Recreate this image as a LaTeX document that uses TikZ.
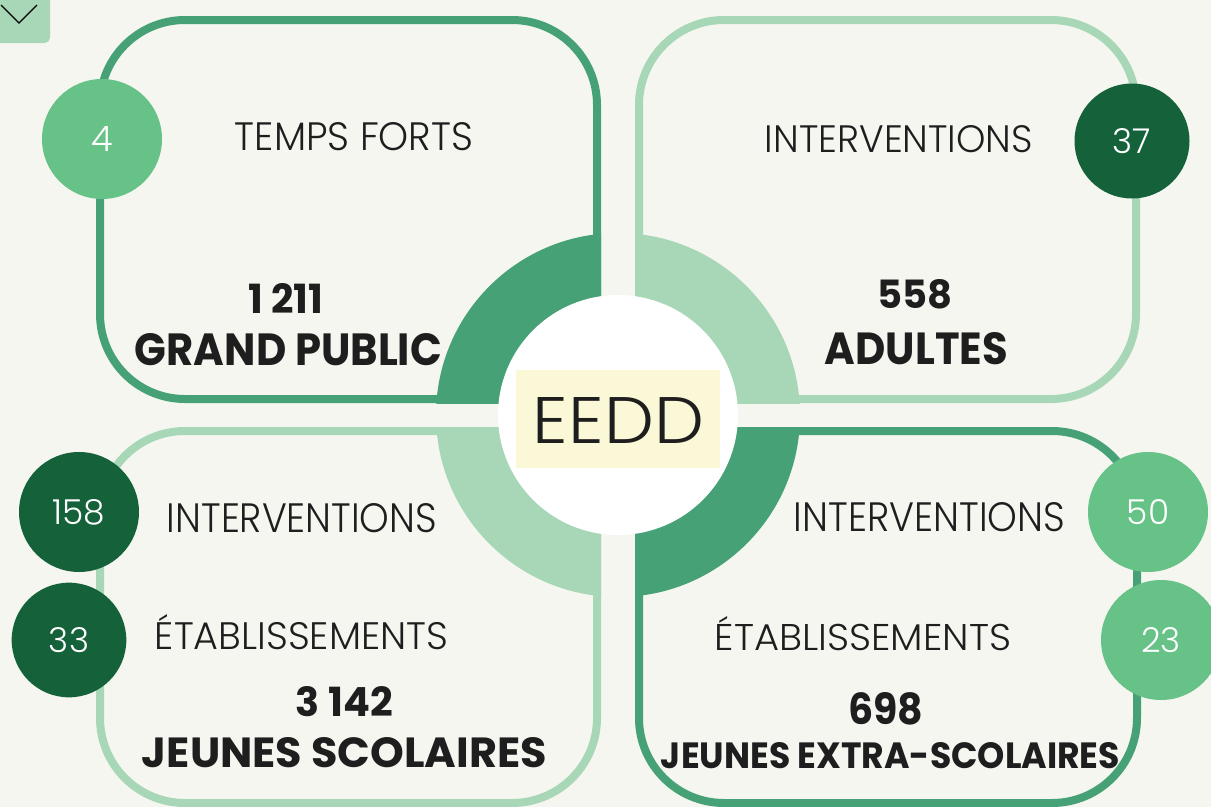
\documentclass[tikz,border=0pt]{standalone}
\usepackage{fontspec}
\usepackage{graphicx}
\IfFontExistsTF{Poppins Light}{\newfontfamily\thinf{Poppins Light}}{\newfontfamily\thinf{Poppins}}
\newfontfamily\boldf{Poppins}
\newlength\upx
\setlength\upx{0.75pt}
\newcommand\fitbox[3]{\resizebox{#1\upx}{#2\upx}{#3}}
\newcommand\fitnum[1]{\resizebox{!}{25\upx}{#1}}
\definecolor{bg}{HTML}{F5F6F0}
\definecolor{dkg}{HTML}{46A276}
\definecolor{ltg}{HTML}{A8D7B7}
\definecolor{midg}{HTML}{66C286}
\definecolor{deepg}{HTML}{14613A}
\definecolor{yel}{HTML}{FAF8D6}
\definecolor{txt}{HTML}{1E1E1E}
\tikzset{
  boxline/.style={line width=6pt, rounded corners=63.75pt},
  numc/.style={circle, inner sep=0pt, minimum size=90pt, text=white, font=\thinf},
  thinlbl/.style={inner sep=0pt, text=txt, font=\thinf},
  boldlbl/.style={inner sep=0pt, text=txt, font=\boldf\bfseries},
}
\begin{document}
\begin{tikzpicture}[x=0.75pt,y=-0.75pt]
\useasboundingbox (0,0) rectangle (1211,807);
\fill[bg] (0,0) rectangle (1211,807);

% corner button
\begin{scope}
  \clip (0,0) rectangle (1211,807);
  \fill[ltg, rounded corners=4pt] (-20,-20) rectangle (50,43);
\end{scope}
\draw[black, line width=1pt] (1,5) -- (19,23) -- (37,5);

% boxes
\draw[boxline, dkg] (100,20) rectangle (597,399);
\draw[boxline, ltg] (639,20) rectangle (1136,399);
\draw[boxline, ltg] (100,431) rectangle (597,803);
\draw[boxline, dkg] (639,431) rectangle (1137,803);

% ring quarters
\begin{scope}
  \clip (0,0) rectangle (601,403);
  \fill[dkg] (618,415) circle[radius=136.5pt];
\end{scope}
\begin{scope}
  \clip (635,0) rectangle (1211,403);
  \fill[ltg] (618,415) circle[radius=136.5pt];
\end{scope}
\begin{scope}
  \clip (0,427) rectangle (601,807);
  \fill[ltg] (618,415) circle[radius=136.5pt];
\end{scope}
\begin{scope}
  \clip (635,427) rectangle (1211,807);
  \fill[dkg] (618,415) circle[radius=136.5pt];
\end{scope}

% center
\node[circle, fill=white, minimum size=180pt, inner sep=0pt] (hub) at (618,415) {};
\node[fill=yel, minimum width=153pt, minimum height=73.5pt, inner sep=0pt] (eeddbox) at (618,419) {};
\node[thinlbl] (eedd) at (618.5,420) {\fitbox{171}{46}{EEDD}};

% number circles
\node[numc, fill=midg] (n4) at (102,139) {\fitnum{4}};
\node[numc, fill=deepg, minimum size=86.25pt] (n37) at (1132,141) {\fitnum{37}};
\node[numc, fill=deepg] (n158) at (79,512) {\fitnum{158}};
\node[numc, fill=deepg, minimum size=86pt] (n33) at (69,640) {\fitnum{33}};
\node[numc, fill=midg] (n50) at (1148,512) {\fitnum{50}};
\node[numc, fill=midg] (n23) at (1161,640) {\fitnum{23}};

% top-left texts
\node[thinlbl] (tl1) at (354,137) {\fitbox{238}{28}{TEMPS FORTS}};
\node[boldlbl] (tl2) at (285.5,298) {\fitbox{75}{30}{1 211}};
\node[boldlbl] (tl3) at (288.5,350) {\fitbox{307}{32}{GRAND PUBLIC}};

% top-right texts
\node[thinlbl] (tr1) at (899,139.5) {\fitbox{268}{27}{INTERVENTIONS}};
\node[boldlbl] (tr2) at (914.5,294.5) {\fitbox{75}{29}{558}};
\node[boldlbl] (tr3) at (916.5,349) {\fitbox{183}{32}{ADULTES}};

% bottom-left texts
\node[thinlbl] (bl1) at (302,518.5) {\fitbox{270}{29}{INTERVENTIONS}};
\node[thinlbl] (bl2) at (301.5,632.5) {\fitbox{293}{35}{ÉTABLISSEMENTS}};
\node[boldlbl] (bl3) at (344.5,702) {\fitbox{97}{30}{3 142}};
\node[boldlbl] (bl4) at (344.5,753) {\fitbox{405}{30}{JEUNES SCOLAIRES}};

% bottom-right texts
\node[thinlbl] (br1) at (929.5,517.5) {\fitbox{271}{29}{INTERVENTIONS}};
\node[thinlbl] (br2) at (863,634) {\fitbox{296}{34}{ÉTABLISSEMENTS}};
\node[boldlbl] (br3) at (885.5,709) {\fitbox{75}{32}{698}};
\node[boldlbl] (br4) at (890.5,756) {\fitbox{459}{26}{JEUNES EXTRA-SCOLAIRES}};
\end{tikzpicture}
\end{document}
